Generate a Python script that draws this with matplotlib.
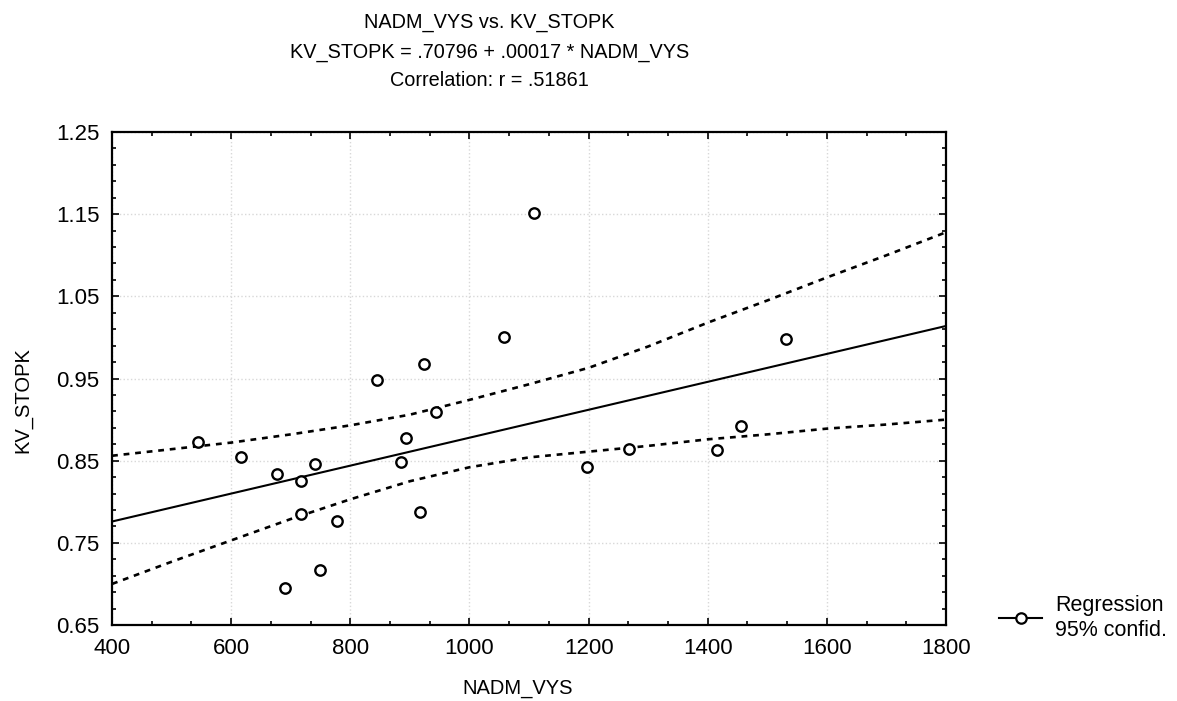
import matplotlib
matplotlib.use("Agg")
import matplotlib.pyplot as plt
import numpy as np
from matplotlib.lines import Line2D
from matplotlib.ticker import FixedLocator

plt.rcParams['font.family'] = ['Liberation Sans', 'DejaVu Sans']

# data
nadm_vys = [545, 617, 677, 690, 717, 717, 741, 749, 778, 844, 885,
            894, 917, 924, 944, 1058, 1109, 1198, 1267, 1415, 1455, 1532]
kv_stopk = [0.873, 0.854, 0.834, 0.695, 0.825, 0.785, 0.846, 0.717, 0.777, 0.948, 0.848,
            0.877, 0.788, 0.968, 0.909, 1.001, 1.151, 0.842, 0.864, 0.863, 0.892, 0.998]

intercept = 0.70796
slope = 0.00017

# 95% confidence band, read at every 100
band_x = [400, 500, 600, 700, 800, 900, 1000, 1100, 1200, 1300, 1400, 1500, 1600, 1700, 1800]
band_hi = [0.856, 0.864, 0.872, 0.882, 0.893, 0.906, 0.924, 0.943, 0.963, 0.989, 1.018,
           1.045, 1.073, 1.100, 1.128]
band_lo = [0.700, 0.727, 0.753, 0.779, 0.803, 0.825, 0.842, 0.854, 0.861, 0.868, 0.876,
           0.882, 0.889, 0.894, 0.900]

x_ticks = [400, 600, 800, 1000, 1200, 1400, 1600, 1800]
y_ticks = [0.65, 0.75, 0.85, 0.95, 1.05, 1.15, 1.25]

fig = plt.figure(figsize=(11.77, 7.01), dpi=100)
ax = fig.add_axes([0.0952, 0.1084, 0.7086, 0.7033])

line_x = np.array([400, 1800])
ax.plot(line_x, intercept + slope * line_x, c='black', lw=1.5)
ax.plot(band_x, band_hi, c='black', lw=1.9, ls=(0, (2.2, 2.2)))
ax.plot(band_x, band_lo, c='black', lw=1.9, ls=(0, (2.2, 2.2)))
ax.scatter(nadm_vys, kv_stopk, s=56, facecolors='white', edgecolors='black',
           linewidths=1.7, zorder=3)

ax.set_xlim(400, 1800)
ax.set_ylim(0.65, 1.25)
ax.set_xticks(x_ticks)
ax.set_yticks(y_ticks)
ax.set_yticklabels(["%.2f" % v for v in y_ticks])
ax.xaxis.set_minor_locator(FixedLocator(np.linspace(400, 1800, 22)))
ax.yaxis.set_minor_locator(FixedLocator(np.arange(0.65, 1.2501, 0.02)))
ax.tick_params(which='both', direction='in', top=True, right=True, width=1.2)
ax.tick_params(which='major', length=5, labelsize=16, pad=9)
ax.tick_params(which='minor', length=3)
ax.grid(True, which='major', color='#d8d8d8', ls=':', lw=1)
for s in ax.spines.values():
    s.set_linewidth(1.6)

ax.set_xlabel("NADM_VYS", fontsize=14.5)
ax.set_ylabel("KV_STOPK", fontsize=14.5)
ax.xaxis.set_label_coords(0.486, -0.110)
ax.yaxis.set_label_coords(-0.095, 0.456)

fig.text(0.416, 1 - 22 / 701, "NADM_VYS vs. KV_STOPK", ha='center', va='center', fontsize=14.3)
fig.text(0.416, 1 - 52 / 701, "KV_STOPK = .70796 + .00017 * NADM_VYS", ha='center', va='center', fontsize=14.3)
fig.text(0.416, 1 - 81 / 701, "Correlation: r = .51861", ha='center', va='center', fontsize=14.3)

handle = Line2D([0], [0], color='black', lw=1.5, marker='o', markersize=7.5,
                markerfacecolor='white', markeredgewidth=1.6)
fig.legend([handle], ["Regression\n95% confid."], loc='center left',
           bbox_to_anchor=(0.84, 1 - 618 / 701), frameon=False, fontsize=15.5,
           handlelength=2.0, handletextpad=0.6, borderpad=0)

fig.savefig("out.png", dpi=100)
